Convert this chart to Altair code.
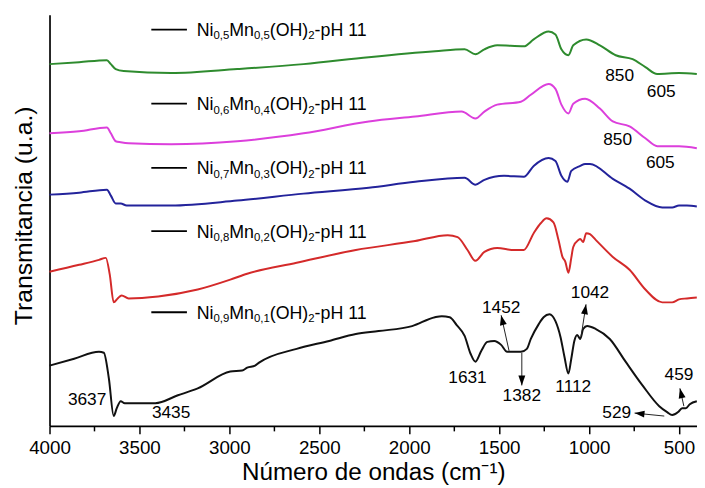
import altair as alt
import pandas as pd

# ---------------- spectra: (wavenumber cm-1, transmittance a.u. incl. offset) ----------------
spec_09 = [(4000,61),(3863,68),(3725,75),(3698,74),(3670,48),(3643,10),(3626,18),(3604,25),(3582,23),
           (3505,23),(3412,23),(3286,31),(3176,38),(2995,55),(2929,56),(2901,59),(2857,61),(2835,64),
           (2626,78),(2445,86),(2297,93),(2170,96),(1984,101),(1857,110),(1819,111),(1775,110),(1736,102),
           (1692,91),(1659,73),(1632,65),(1599,76),(1566,85),(1527,86),(1489,82),(1456,75),(1379,75),
           (1346,78),(1324,88),(1280,103),(1253,110),(1220,113),(1187,106),(1159,90),(1137,70),(1115,53),
           (1099,68),(1082,86),(1066,92),(1049,88),(1033,98),(1011,101),(962,98),(885,88),(797,65),
           (703,41),(610,20),(566,14),(538,11),(505,14),(483,18),(462,18),(440,22),(401,25)]
spec_08 = [(4000,156),(3835,163),(3725,168),(3687,170),(3665,153),(3643,125),(3621,129),(3599,132),
           (3560,129),(3396,131),(3176,138),(2995,148),(2901,154),(2626,165),(2297,178),(1967,187),
           (1786,193),(1731,191),(1676,178),(1632,167),(1582,176),(1511,180),(1418,178),(1363,178),
           (1308,195),(1269,205),(1236,210),(1198,206),(1170,188),(1148,171),(1132,166),(1115,155),
           (1099,170),(1088,181),(1060,188),(1049,189),(1033,186),(1016,195),(995,194),(962,188),
           (868,171),(775,158),(687,138),(593,125),(538,125),(500,128),(456,129),(401,130)]
spec_07 = [(4000,234),(3835,236),(3681,239),(3659,233),(3632,225),(3604,225),(3571,223),(3324,223),
           (2956,228),(2588,235),(2225,241),(1967,247),(1692,251),(1632,244),(1582,249),(1473,253),
           (1363,252),(1308,263),(1225,271),(1187,268),(1154,253),(1121,247),(1099,258),(1049,263),
           (1022,265),(995,265),(868,250),(775,240),(687,228),(593,221),(538,221),(500,223),(456,223),(401,222)]
spec_06 = [(4000,296),(3835,298),(3681,302),(3659,296),(3632,288),(3604,287),(3560,286),(3324,285),
           (2956,288),(2588,296),(2225,308),(1967,313),(1709,318),(1632,311),(1582,318),(1511,325),
           (1379,328),(1324,335),(1225,346),(1187,341),(1154,325),(1115,316),(1088,326),(1022,331),
           (940,321),(868,308),(775,303),(687,291),(621,283),(500,283),(401,281)]
spec_05 = [(4000,366),(3835,368),(3681,370),(3659,366),(3632,361),(3588,359),(3324,357),(2956,361),
           (2588,366),(2225,373),(1857,379),(1692,381),(1632,376),(1582,381),(1511,385),(1363,384),
           (1308,391),(1225,399),(1187,396),(1154,381),(1115,375),(1088,385),(1016,391),(940,385),
           (852,375),(758,371),(687,363),(621,356),(500,357),(401,356)]

series_keys = ["s09", "s08", "s07", "s06", "s05"]
series_colors = ["#111111", "#d42a2a", "#23239b", "#dc3fdc", "#2e8b2e"]
spectra = [spec_09, spec_08, spec_07, spec_06, spec_05]

# ---------------- legend labels ----------------
leg_ni = ["0,9", "0,8", "0,7", "0,6", "0,5"]
leg_mn = ["0,1", "0,2", "0,3", "0,4", "0,5"]
leg_T = [115, 197, 261, 326, 401]
leg_x0, leg_x1, leg_text_x = 3434, 3236, 3182

# ---------------- band annotations ----------------
ann_text = ["3637", "3435", "1631", "1452", "1382", "1112", "1042", "459", "529", "850", "605", "850", "605"]
ann_wn = [3791, 3324, 1676, 1489, 1374, 1088, 995, 500, 846, 830, 599, 841, 604]
ann_T = [26, 13, 48, 119, 30, 39, 134, 51, 13, 354, 338, 289, 266]

# arrows (tail -> head)
arr_wn0 = [1445, 1374, 1044, 473, 582]
arr_T0 = [76, 74, 91, 20, 10]
arr_wn1 = [1489, 1374, 1017, 495, 747]
arr_T1 = [112, 41, 123, 38, 13]
arr_angle = [347, 180, 9, 347, 276]

all_ticks = [4000, 3750, 3500, 3250, 3000, 2750, 2500, 2250, 2000, 1750, 1500, 1250, 1000, 750, 500]

FONT = "Liberation Sans"
W, H = 655, 416

rows = []
for key, spec in zip(series_keys, spectra):
    for i, (w, t) in enumerate(spec):
        rows.append({"series": key, "wn": w, "T": t})
df = pd.DataFrame(rows)

xs = alt.Scale(domain=[400, 4000], reverse=True, nice=False, zero=False)
ys = alt.Scale(domain=[0, H], nice=False, zero=False)

xaxis = alt.Axis(
    values=all_ticks, orient="bottom",
    tickSize={"condition": {"test": "datum.value % 500 === 0", "value": 8}, "value": 5},
    labelExpr="datum.value % 500 === 0 ? format(datum.value, 'd') : ''",
    tickWidth=1.5, tickColor="#000",
    domainColor="#000", domainWidth=1.7, labelFontSize=19, labelColor="#000", labelFont=FONT,
    labelPadding=5, labelFlush=False, labelOverlap=False, grid=False,
    title="Número de ondas (cm⁻¹)", titleFontSize=24.5, titleFont=FONT, titleFontWeight="normal",
    titleColor="#000", titleBaseline="alphabetic", titleY=54, titleX=W / 2)
yaxis = alt.Axis(
    ticks=False, labels=False, grid=False, domainColor="#000", domainWidth=1.7,
    title="Transmitancia (u.a.)", titleFontSize=25, titleFont=FONT, titleFontWeight="normal",
    titleColor="#000", titleAngle=270, titleAlign="center", titleBaseline="middle",
    titleX=-26, titleY=203)


def X(field):
    return alt.X(field, scale=xs, axis=xaxis)


def Y(field):
    return alt.Y(field, scale=ys, axis=yaxis)


lines = alt.Chart(df).mark_line(strokeWidth=2, interpolate="monotone").encode(
    x=X("wn:Q"), y=Y("T:Q"),
    color=alt.Color("series:N", scale=alt.Scale(domain=series_keys, range=series_colors), legend=None),
)

leg_df = pd.DataFrame({"ni": leg_ni, "mn": leg_mn, "T": leg_T,
                       "wn": [leg_x0] * 5, "wn2": [leg_x1] * 5, "tx": [leg_text_x] * 5})
leg_rules = alt.Chart(leg_df).mark_rule(color="#000", strokeWidth=1.8).encode(
    x=X("wn:Q"), x2="wn2:Q", y=Y("T:Q"))

# Arial / Liberation Sans advance widths (em) for text measuring
adv = {"N": .722, "i": .222, "M": .833, "n": .556, "(": .333, ")": .333, "O": .778, "H": .722,
       "-": .333, "p": .556, " ": .278, "1": .556, "2": .556, "0": .556, ",": .278, "5": .556}
MAIN, SUB = 18, 11.5
segments = [("Ni", None, MAIN), (None, "ni", SUB), ("Mn", None, MAIN), (None, "mn", SUB),
            ("(OH)", None, MAIN), ("2", None, SUB), ("-pH 11", None, MAIN)]
leg_layers = []
off = 0.0
for const, field, size in segments:
    dy = 6.5 if size == MAIN else 10
    mk = dict(align="left", baseline="alphabetic", fontSize=size, font=FONT, color="#000",
              dx=off, dy=dy)
    if const is not None:
        ch = alt.Chart(leg_df).mark_text(text=const, **mk).encode(x=X("tx:Q"), y=Y("T:Q"))
        txt = const
    else:
        ch = alt.Chart(leg_df).mark_text(**mk).encode(x=X("tx:Q"), y=Y("T:Q"), text=f"{field}:N")
        txt = "0,5"
    leg_layers.append(ch)
    off += sum(adv[c] for c in txt) * size

ann_df = pd.DataFrame({"wn": ann_wn, "T": ann_T, "label": ann_text})
ann = alt.Chart(ann_df).mark_text(fontSize=17.5, font=FONT, color="#000", baseline="middle",
                                  align="center").encode(x=X("wn:Q"), y=Y("T:Q"), text="label:N")

arr_df = pd.DataFrame({"wn": arr_wn0, "T": arr_T0, "wn2": arr_wn1, "T2": arr_T1, "ang": arr_angle})
arr_lines = alt.Chart(arr_df).mark_rule(color="#222", strokeWidth=1).encode(
    x=X("wn:Q"), y=Y("T:Q"), x2="wn2:Q", y2="T2:Q")
arr_heads = alt.Chart(arr_df).mark_point(shape="M0,0L0.7,2L-0.7,2Z", filled=True, size=100,
                                         color="#000", opacity=1, strokeWidth=0).encode(
    x=X("wn2:Q"), y=Y("T2:Q"), angle=alt.Angle("ang:Q", scale=None))

chart = alt.layer(lines, leg_rules, *leg_layers, ann, arr_lines, arr_heads).properties(
    width=W, height=H,
    autosize=alt.AutoSizeParams(type="none"),
    padding={"left": 42, "right": 0, "top": 4, "bottom": 60},
    background="white",
).configure_view(strokeWidth=0)

chart.save("out.html", embed_options={"renderer": "svg", "actions": False})
